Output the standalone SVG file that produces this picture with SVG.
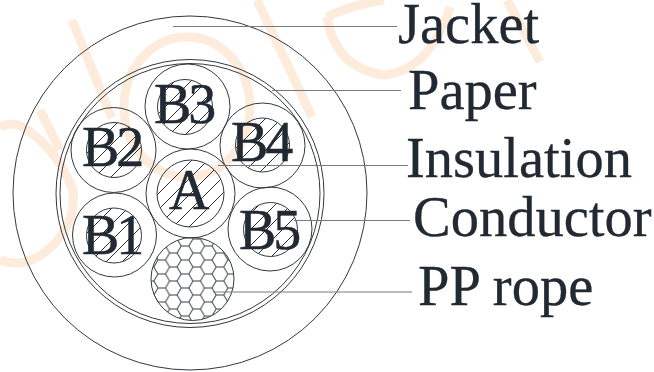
<svg xmlns="http://www.w3.org/2000/svg" width="654" height="372" viewBox="0 0 654 372">
<style>
.wm{fill:none;stroke:#fdecdb;stroke-width:9}
.c{fill:none;stroke:#33383d;stroke-width:1}
.h{fill:url(#hatch);stroke:#33383d;stroke-width:1}
.i{fill:none;stroke:#33383d;stroke-width:1}
.t{font-family:"Liberation Serif","Times New Roman",serif;font-size:56.5px;fill:#212a33;stroke:#212a33;stroke-width:.3}
.n{font-family:"Liberation Serif","Times New Roman",serif;font-size:56px;fill:#212a33;stroke:#212a33;stroke-width:.5;letter-spacing:-3px}
.l{stroke:#777b80;stroke-width:1.2;fill:none}
</style>
<defs>
<pattern id="hatch" patternUnits="userSpaceOnUse" width="16" height="16">
<path d="M-4 4L4 -4M0 16L16 0M12 20L20 12" fill="none" stroke="#2a2f34" stroke-width="1"/>
</pattern>
<pattern id="hex" patternUnits="userSpaceOnUse" x="185" y="239" width="23.3" height="14">
<path d="M7.9 0H15.4L19.55 7L15.4 14H7.9L3.75 7ZM19.55 7H23.3M0 7H3.75" fill="none" stroke="#3c4146" stroke-width="1"/>
</pattern>
</defs>
<rect width="654" height="372" fill="#fff"/>
<g id="watermark">
<path class="wm" d="M72 20L112 118"/>
<path class="wm" d="M0 127Q14 119 30 132Q58 152 73 190Q76 225 50 248Q25 270 0 260M40 110L60 150"/>
<ellipse class="wm" cx="187" cy="107" rx="63" ry="70"/>
<path class="wm" d="M257 0L312 117"/>
<path class="wm" d="M327 17Q335 68 384 75Q430 70 450 7M327 17Q350 5 384 0"/>
<path class="wm" d="M507 0L540 62"/>
</g>
<g id="jacket"><circle class="c" cx="190" cy="193" r="177"/></g>
<g id="paper"><circle class="c" cx="190" cy="193.5" r="134"/><circle class="c" cx="190" cy="193.5" r="130"/></g>
<g id="B3"><circle class="i" cx="187.5" cy="106.5" r="42.5"/><circle class="h" cx="185" cy="107" r="27.5"/><text class="n" x="154" y="123">B3</text></g>
<g id="B2"><circle class="i" cx="113.5" cy="150" r="42.5"/><circle class="h" cx="114" cy="150" r="27.5"/><text class="n" x="82" y="166">B2</text></g>
<g id="B4"><circle class="i" cx="262.5" cy="145.5" r="42.5"/><circle class="h" cx="262.5" cy="145" r="27"/><text class="n" x="231" y="161">B4</text></g>
<g id="A"><circle class="i" cx="190.5" cy="193.5" r="44.5"/><circle class="h" cx="190.5" cy="193.5" r="33.5"/><text class="n" x="169" y="209">A</text></g>
<g id="B1"><circle class="i" cx="114.5" cy="235" r="42"/><circle class="h" cx="114" cy="235.5" r="27.5"/><text class="n" x="82" y="254">B1</text></g>
<g id="B5"><circle class="i" cx="270" cy="229" r="42"/><circle class="h" cx="270.5" cy="229.5" r="27"/><text class="n" x="239" y="249">B5</text></g>
<g id="pp-rope"><circle cx="192.5" cy="279" r="41.5" fill="url(#hex)" stroke="#33383d" stroke-width="1"/></g>
<g id="connectors">
<line class="l" x1="173" y1="26.5" x2="397" y2="26.5"/>
<line class="l" x1="272" y1="90.5" x2="401" y2="90.5"/>
<line class="l" x1="218" y1="165.5" x2="408" y2="165.5"/>
<line class="l" x1="294" y1="220.5" x2="410" y2="220.5"/>
<line class="l" x1="213" y1="292" x2="412" y2="292"/>
</g>
<g id="labels">
<text class="t" x="398" y="43">Jacket</text>
<text class="t" x="408" y="109">Paper</text>
<text class="t" x="406" y="177">Insulation</text>
<text class="t" x="413" y="236">Conductor</text>
<text class="t" x="418" y="305">PP rope</text>
</g>
</svg>
